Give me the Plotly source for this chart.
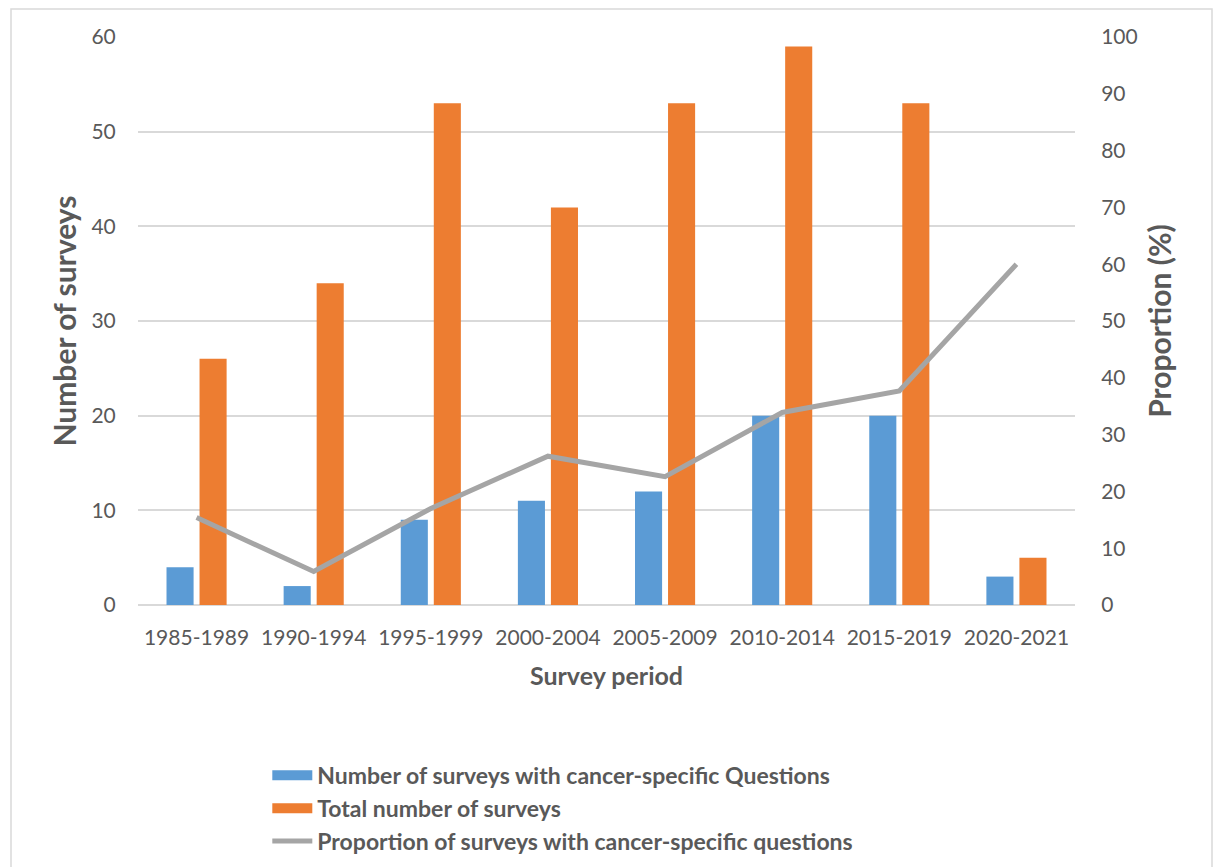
import plotly.graph_objects as go

periods = ["1985-1989", "1990-1994", "1995-1999", "2000-2004", "2005-2009",
           "2010-2014", "2015-2019", "2020-2021"]
cancer_specific = [4, 2, 9, 11, 12, 20, 20, 3]
total_surveys = [26, 34, 53, 42, 53, 59, 53, 5]
proportion = [15.4, 5.9, 17.0, 26.2, 22.6, 33.9, 37.7, 60.0]

series_names = ["Number of surveys with cancer-specific Questions",
                "Total number of surveys",
                "Proportion of surveys with cancer-specific questions"]
series_colors = ["#5B9BD5", "#ED7D31", "#A5A5A5"]

FONT = "Lato"
GREY = "#595959"

fig = go.Figure()
fig.add_trace(go.Bar(x=periods, y=cancer_specific, name=series_names[0],
                     marker=dict(color=series_colors[0], line=dict(width=0)),
                     showlegend=False))
fig.add_trace(go.Bar(x=periods, y=total_surveys, name=series_names[1],
                     marker=dict(color=series_colors[1], line=dict(width=0)),
                     showlegend=False))
fig.add_trace(go.Scatter(x=periods, y=proportion, yaxis="y2", mode="lines",
                         name=series_names[2],
                         line=dict(color=series_colors[2], width=5),
                         showlegend=False))

# legend entries (wide swatches like the original)
for i, (nm, col) in enumerate(zip(series_names, series_colors)):
    fig.add_trace(go.Scatter(x=[None], y=[None], mode="lines", name=nm,
                             line=dict(color=col, width=12 if i < 2 else 5),
                             legendgroup=f"g{i}", hoverinfo="skip"))

fig.update_layout(
    width=1217, height=867,
    margin=dict(l=138, r=142, t=37, b=262, autoexpand=False),
    paper_bgcolor="white", plot_bgcolor="white",
    font=dict(family=FONT, color=GREY, size=20),
    barmode="group", bargap=0.436, bargroupgap=0.18,
    showlegend=True,
    legend=dict(x=0.138, y=-0.262, xanchor="left", yanchor="top",
                orientation="v", traceorder="normal",
                font=dict(family=FONT, size=23, color=GREY, weight="bold"),
                tracegroupgap=11, itemwidth=40, bgcolor="rgba(0,0,0,0)"),
    xaxis=dict(
        title=dict(text="Survey period", font=dict(size=25, color=GREY, weight="bold"),
                   standoff=19),
        tickfont=dict(size=21, color=GREY), automargin=False,
        showgrid=False, showline=False, zeroline=False,
        ticks="outside", ticklen=14, tickcolor="rgba(0,0,0,0)",
    ),
    yaxis=dict(
        title=dict(text="Number of surveys", font=dict(size=30, color=GREY, weight="bold"),
                   standoff=5),
        range=[0, 60], dtick=10, automargin=False,
        tickfont=dict(size=21, color=GREY),
        showgrid=True, gridcolor="#D9D9D9", gridwidth=1.5,
        zeroline=True, zerolinecolor="#D9D9D9", zerolinewidth=1.5,
        showline=False,
        ticks="outside", ticklen=17, tickcolor="rgba(0,0,0,0)",
    ),
    yaxis2=dict(
        title=dict(text="Proportion (%)", font=dict(size=30, color=GREY, weight="bold"),
                   standoff=13),
        overlaying="y", side="right", automargin=False,
        range=[0, 100], dtick=10,
        tickfont=dict(size=21, color=GREY),
        showgrid=False, zeroline=False, showline=False,
        ticks="outside", ticklen=21, tickcolor="rgba(0,0,0,0)",
    ),
    shapes=[dict(type="rect", xref="paper", yref="paper",
                 x0=(11 - 138) / 937, x1=(1212 - 138) / 937,
                 y0=(605 - 880) / 568, y1=(605 - 9) / 568,
                 line=dict(color="#D9D9D9", width=1.5), layer="below")],
)

fig.write_html("out.html")
